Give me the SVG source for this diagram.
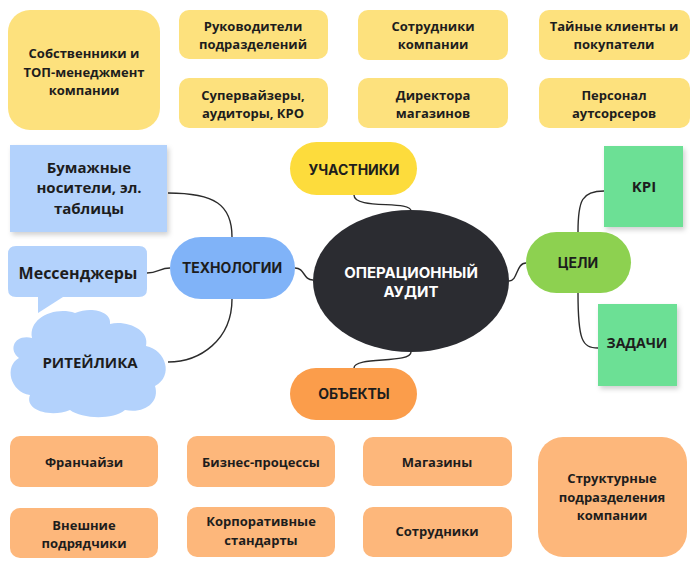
<svg xmlns="http://www.w3.org/2000/svg" width="697" height="566" viewBox="0 0 697 566">
<defs>
<filter id="sh" x="-10%" y="-10%" width="130%" height="130%">
<feDropShadow dx="2" dy="3" stdDeviation="2.5" flood-color="#000" flood-opacity="0.18"/>
</filter>
<style>
.t{font-family:"Open Sans","Noto Sans","Liberation Sans",sans-serif;font-weight:700;font-size:13px;fill:#1d1d1d;text-anchor:middle}
.tl{font-family:"Open Sans","Noto Sans","Liberation Sans",sans-serif;font-weight:700;font-size:15px;fill:#1d1d1d;text-anchor:middle}
.h{font-family:Inter,"Liberation Sans",sans-serif;font-weight:700;font-size:14px;fill:#1d1d1d;text-anchor:middle}
.hw{font-family:Inter,"Liberation Sans",sans-serif;font-weight:700;font-size:15px;fill:#ffffff;text-anchor:middle}
.y{fill:#FDE17D}
.o{fill:#FDB77B}
.c{fill:none;stroke:#2b2b2b;stroke-width:1.4}
</style>
</defs>
<rect width="697" height="566" fill="#ffffff"/>

<g id="connectors">
<path class="c" d="M168 193 C 215 193, 232 205, 232 237"/>
<path class="c" d="M147 273 C 158 273, 160 268, 170 268"/>
<path class="c" d="M232 299 C 232 340, 200 362, 168 362"/>
<path class="c" d="M295 268 C 305 268, 303 280, 313 280"/>
<path class="c" d="M354 195 C 354 210, 411 200, 411 211"/>
<path class="c" d="M411 352 C 411 364, 354 356, 354 368"/>
<path class="c" d="M509 281 C 518 281, 516 263, 526 263"/>
<path class="c" d="M578 232 C 578 200, 582 191, 604 191"/>
<path class="c" d="M578 293 C 578 340, 582 348, 598 348"/>
</g>

<g id="owners"><rect class="y" x="8" y="10" width="152" height="120" rx="22"/>
<text class="t" x="84" y="58">Собственники и</text><text class="t" x="84" y="77">ТОП-менеджмент</text><text class="t" x="84" y="95">компании</text></g>
<g id="heads"><rect class="y" x="179" y="10" width="149" height="49" rx="10"/>
<text class="t" x="253" y="31">Руководители</text><text class="t" x="253" y="49">подразделений</text></g>
<g id="supervisors"><rect class="y" x="179" y="78" width="149" height="50" rx="10"/>
<text class="t" x="253" y="100">Супервайзеры,</text><text class="t" x="253" y="118">аудиторы, КРО</text></g>
<g id="employees"><rect class="y" x="358" y="10" width="150" height="50" rx="10"/>
<text class="t" x="433" y="31">Сотрудники</text><text class="t" x="433" y="49">компании</text></g>
<g id="mystery"><rect class="y" x="539" y="10" width="151" height="50" rx="10"/>
<text class="t" x="614" y="31">Тайные клиенты и</text><text class="t" x="614" y="49">покупатели</text></g>
<g id="directors"><rect class="y" x="358" y="78" width="150" height="50" rx="10"/>
<text class="t" x="433" y="100">Директора</text><text class="t" x="433" y="118">магазинов</text></g>
<g id="outsource"><rect class="y" x="539" y="78" width="151" height="50" rx="10"/>
<text class="t" x="614" y="100">Персонал</text><text class="t" x="614" y="118">аутсорсеров</text></g>

<g id="participants"><rect x="290" y="142" width="127" height="53" rx="26.5" fill="#FDDC3C"/>
<text class="h" x="354" y="175">УЧАСТНИКИ</text></g>

<g id="paper"><rect x="10" y="145" width="157" height="87" fill="#B3D2FC" filter="url(#sh)"/>
<text class="tl" x="89" y="173">Бумажные</text><text class="tl" x="89" y="193">носители, эл.</text><text class="tl" x="89" y="214">таблицы</text></g>

<g id="messengers"><path d="M16 246 H139 Q147 246 147 254 V289 Q147 297 139 297 H63 L38 313 V297 H16 Q8 297 8 289 V254 Q8 246 16 246 Z" fill="#B3D2FC"/>
<text class="tl" x="78" y="279" style="font-size:16px">Мессенджеры</text></g>

<g id="tech"><rect x="170" y="237" width="125" height="62" rx="31" fill="#80B3F8"/>
<text class="h" x="232" y="273">ТЕХНОЛОГИИ</text></g>

<g id="retailika"><path d="M32 338 C 28 318, 55 306, 75 313 C 92 306, 112 312, 110 324 C 127 320, 150 330, 146 346 C 166 350, 174 376, 155 386 C 160 402, 145 414, 125 410 C 113 420, 82 419, 70 410 C 50 418, 24 410, 30 395 C 10 392, 4 366, 19 358 C 8 350, 14 334, 32 338 Z" fill="#B3D2FC"/>
<text class="tl" x="90" y="368">РИТЕЙЛИКА</text></g>

<g id="center"><ellipse cx="411" cy="281" rx="98" ry="71" fill="#2B2C31"/>
<text class="hw" x="411" y="278">ОПЕРАЦИОННЫЙ</text><text class="hw" x="411" y="297">АУДИТ</text></g>

<g id="objects"><rect x="290" y="368" width="127" height="52" rx="26" fill="#FB9D4B"/>
<text class="h" x="354" y="399">ОБЪЕКТЫ</text></g>

<g id="goals"><rect x="526" y="232" width="105" height="61" rx="30.5" fill="#8DD150"/>
<text class="h" x="578" y="268">ЦЕЛИ</text></g>

<g id="kpi"><rect x="604" y="146" width="79" height="81" fill="#6CE095" filter="url(#sh)"/>
<text class="tl" x="644" y="192">KPI</text></g>
<g id="tasks"><rect x="598" y="304" width="79" height="82" fill="#6CE095" filter="url(#sh)"/>
<text class="t" x="637" y="348" style="font-size:14px">ЗАДАЧИ</text></g>

<g id="franchise"><rect class="o" x="10" y="436" width="148" height="51" rx="10"/>
<text class="t" x="84" y="467">Франчайзи</text></g>
<g id="business"><rect class="o" x="187" y="436" width="148" height="51" rx="10"/>
<text class="t" x="261" y="467">Бизнес-процессы</text></g>
<g id="contractors"><rect class="o" x="10" y="508" width="148" height="50" rx="10"/>
<text class="t" x="84" y="530">Внешние</text><text class="t" x="84" y="548">подрядчики</text></g>
<g id="standards"><rect class="o" x="187" y="507" width="148" height="50" rx="10"/>
<text class="t" x="261" y="526">Корпоративные</text><text class="t" x="261" y="545">стандарты</text></g>
<g id="stores"><rect class="o" x="363" y="437" width="149" height="49" rx="10"/>
<text class="t" x="437" y="467">Магазины</text></g>
<g id="staff"><rect class="o" x="363" y="507" width="149" height="50" rx="10"/>
<text class="t" x="437" y="536">Сотрудники</text></g>
<g id="divisions"><rect class="o" x="538" y="437" width="149" height="120" rx="25"/>
<text class="t" x="612" y="483">Структурные</text><text class="t" x="612" y="502">подразделения</text><text class="t" x="612" y="520">компании</text></g>
</svg>
